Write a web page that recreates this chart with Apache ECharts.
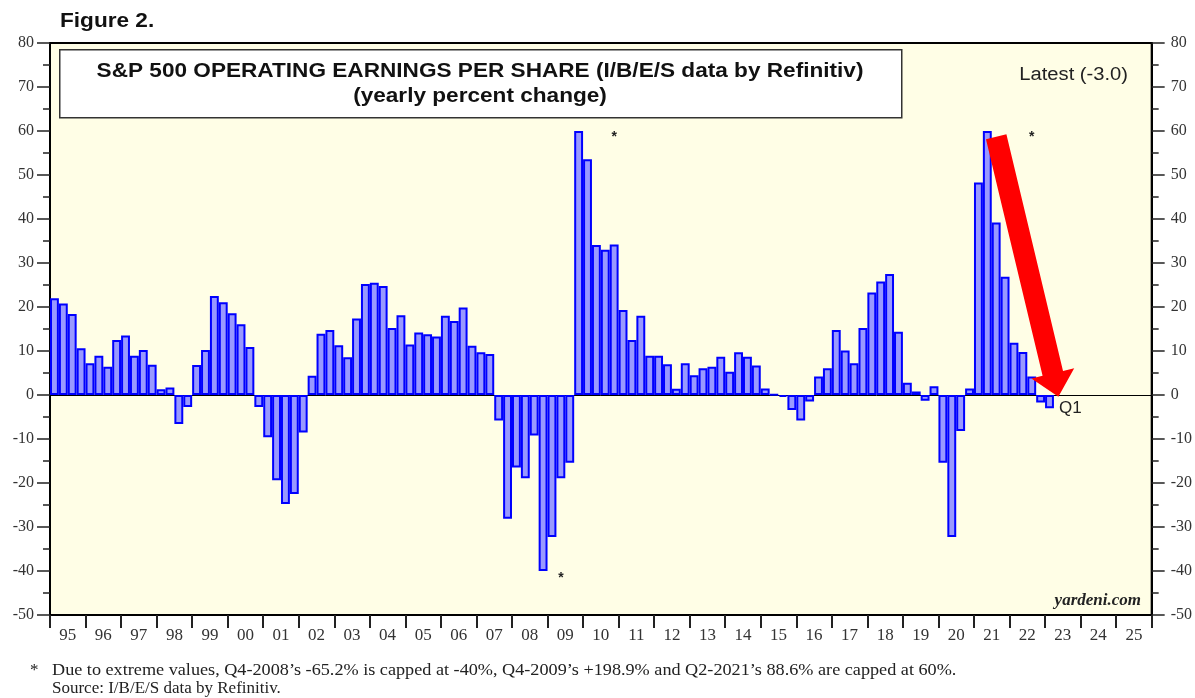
<!DOCTYPE html>
<html>
<head>
<meta charset="utf-8">
<script src="https://cdn.jsdelivr.net/npm/echarts@6/dist/echarts.min.js"></script>
<style>
  html, body { margin: 0; padding: 0; background: #fff; }
  #main { width: 1195px; height: 698px; }
</style>
</head>
<body>
<div id="main"></div>
<script>
// year labels on the bottom axis (1995 .. 2025)
var years = ['95', '96', '97', '98', '99', '00', '01', '02', '03', '04', '05', '06', '07', '08', '09', '10',
  '11', '12', '13', '14', '15', '16', '17', '18', '19', '20', '21', '22', '23', '24', '25'];

// quarterly yearly % change, Q1-1995 .. Q1-2023 (extremes capped at -40 / 60)
var eps = [
  22.0, 20.8, 18.4, 10.6,
  7.2, 8.9, 6.4, 12.5,
  13.5, 8.9, 10.2, 6.9,
  1.3, 1.7, -6.6, -2.7,
  6.8, 10.2, 22.5, 21.1,
  18.6, 16.1, 10.9, -2.7,
  -9.6, -19.4, -24.8, -22.5,
  -8.5, 4.4, 13.9, 14.8,
  11.3, 8.6, 17.4, 25.2,
  25.5, 24.8, 15.2, 18.1,
  11.5, 14.2, 13.8, 13.3,
  18.0, 16.8, 19.9, 11.2,
  9.7, 9.3, -5.8, -28.1,
  -16.5, -18.9, -9.2, -40,
  -32.3, -18.9, -15.4, 60,
  53.6, 34.1, 33.0, 34.2,
  19.3, 12.5, 18.0, 8.9,
  8.9, 7.0, 1.4, 7.2,
  4.5, 6.1, 6.4, 8.7,
  5.3, 9.7, 8.7, 6.7,
  1.5, 0.1, -0.4, -3.4,
  -5.8, -1.5, 4.2, 6.1,
  14.8, 10.1, 7.2, 15.2,
  23.3, 25.8, 27.5, 14.4,
  2.8, 0.8, -1.3, 2.0,
  -15.4, -32.3, -8.2, 1.5,
  48.3, 60, 39.2, 26.9,
  11.9, 9.8, 4.2, -1.7,
  -3.0
];

var yTicks = { min: -50, max: 80, step: 10 };

// asterisks: [quarter index, value]
var stars = [[63, 58.6], [110, 58.6], [57, -41.6]];
// red arrow: from [quarter index, value] to [quarter index, value]
var arrowFrom = [106.1, 58.7];
var arrowTo = [112.9, -0.4];

var quarters = [];
years.forEach(function (y) {
  for (var q = 1; q <= 4; q++) quarters.push(y + 'Q' + q);
});

var serif = 'Liberation Serif, Times New Roman, serif';
var sans = 'Liberation Sans, Arial, sans-serif';

var barData = eps.map(function (v, i) {
  if (i === eps.length - 1) {
    return {
      value: v,
      label: { show: true, position: 'right', formatter: 'Q1', offset: [0, 7],
        color: '#222', fontSize: 17, fontFamily: sans }
    };
  }
  return v;
});

var chartDom = document.getElementById('main');
var myChart = echarts.init(chartDom, null, { renderer: 'canvas' });

function yAxisCfg(pos) {
  return {
    type: 'value',
    position: pos,
    min: yTicks.min,
    max: yTicks.max,
    interval: yTicks.step,
    axisLine: { show: true, onZero: false, lineStyle: { color: '#000', width: 2 } },
    axisTick: { show: true, length: 13, lineStyle: { color: '#222', width: 1.5 } },
    minorTick: { show: true, splitNumber: 2, length: 7, lineStyle: { color: '#222', width: 1.5 } },
    axisLabel: { color: '#333', fontFamily: serif, fontSize: 16, margin: pos === 'left' ? 16 : 19 },
    splitLine: { show: false }
  };
}

var option = {
  animation: false,
  backgroundColor: '#fff',
  grid: {
    left: 50, right: 43, top: 43, bottom: 83,
    show: true, backgroundColor: '#fffee6', borderColor: '#000', borderWidth: 2
  },
  xAxis: [
    {
      type: 'category',
      data: years,
      position: 'bottom',
      boundaryGap: true,
      axisLine: { show: true, onZero: false, lineStyle: { color: '#000', width: 2 } },
      axisTick: { show: true, length: 13, lineStyle: { color: '#222', width: 2 } },
      axisLabel: { color: '#333', fontFamily: serif, fontSize: 17, margin: 12, interval: 0 },
      splitLine: { show: false }
    },
    {
      type: 'category',
      data: quarters,
      position: 'top',
      boundaryGap: true,
      axisLine: { show: true, onZero: true, lineStyle: { color: '#000', width: 1 } },
      axisTick: { show: false },
      axisLabel: { show: false },
      splitLine: { show: false }
    }
  ],
  yAxis: [yAxisCfg('left'), yAxisCfg('right')],
  series: [
    {
      type: 'bar',
      xAxisIndex: 1,
      yAxisIndex: 0,
      data: barData,
      barCategoryGap: '0%',
      itemStyle: { color: '#9999ff', borderColor: '#0000ff', borderWidth: 2 },
      z: 3
    }
  ]
};
myChart.setOption(option);

function px(p) {
  return myChart.convertToPixel({ xAxisIndex: 1, yAxisIndex: 0 }, p);
}

// arrow polygon
var a = px(arrowFrom), b = px(arrowTo);
var dx = b[0] - a[0], dy = b[1] - a[1];
var len = Math.sqrt(dx * dx + dy * dy);
var ux = dx / len, uy = dy / len, nx = -uy, ny = ux;
var headLen = 24, shaftHalf = 10.5, headHalf = 22;
var bx = b[0] - ux * headLen, by = b[1] - uy * headLen;
var arrowPts = [
  [a[0] + nx * shaftHalf, a[1] + ny * shaftHalf],
  [bx + nx * shaftHalf, by + ny * shaftHalf],
  [bx + nx * headHalf, by + ny * headHalf],
  [b[0], b[1]],
  [bx - nx * headHalf, by - ny * headHalf],
  [bx - nx * shaftHalf, by - ny * shaftHalf],
  [a[0] - nx * shaftHalf, a[1] - ny * shaftHalf]
];

var graphics = [
  { type: 'text', x: 60, y: 11, scaleX: 1.13, z: 10,
    style: { text: 'Figure 2.', font: 'bold 20px ' + sans, fill: '#111' } },
  { type: 'rect', left: 59, top: 49, z: 10,
    shape: { width: 842, height: 68 },
    style: { fill: '#fff', stroke: '#333', lineWidth: 1.5 } },
  { type: 'text', x: 480, y: 61, scaleX: 1.13, z: 11,
    style: { text: 'S&P 500 OPERATING EARNINGS PER SHARE (I/B/E/S data by Refinitiv)',
      font: 'bold 20px ' + sans, fill: '#111', align: 'center' } },
  { type: 'text', x: 480, y: 86, scaleX: 1.13, z: 11,
    style: { text: '(yearly percent change)', font: 'bold 20px ' + sans, fill: '#111', align: 'center' } },
  { type: 'text', x: 1128, y: 66, scaleX: 1.12, z: 11,
    style: { text: 'Latest (-3.0)', font: '18px ' + sans, fill: '#222', align: 'right' } },
  { type: 'text', x: 1141, y: 592, z: 11,
    style: { text: 'yardeni.com', font: 'italic bold 17px ' + serif, fill: '#222', align: 'right' } },
  { type: 'polygon', z: 20, shape: { points: arrowPts }, style: { fill: '#ff0000' } },
  { type: 'text', x: 30, y: 662, z: 11,
    style: { text: '*', font: '17px ' + serif, fill: '#222' } },
  { type: 'text', x: 52, y: 662, scaleX: 1.07, z: 11,
    style: { text: 'Due to extreme values, Q4-2008\u2019s -65.2% is capped at -40%, Q4-2009\u2019s +198.9% and Q2-2021\u2019s 88.6% are capped at 60%.',
      font: '17px ' + serif, fill: '#222' } },
  { type: 'text', x: 52, y: 680, z: 11,
    style: { text: 'Source: I/B/E/S data by Refinitiv.', font: '17px ' + serif, fill: '#222' } }
];
stars.forEach(function (s) {
  var p = px(s);
  graphics.push({ type: 'text', x: p[0], y: p[1], z: 11,
    style: { text: '*', font: 'bold 14px ' + sans, fill: '#222', align: 'center', verticalAlign: 'middle' } });
});

myChart.setOption({ graphic: graphics });
</script>
</body>
</html>
